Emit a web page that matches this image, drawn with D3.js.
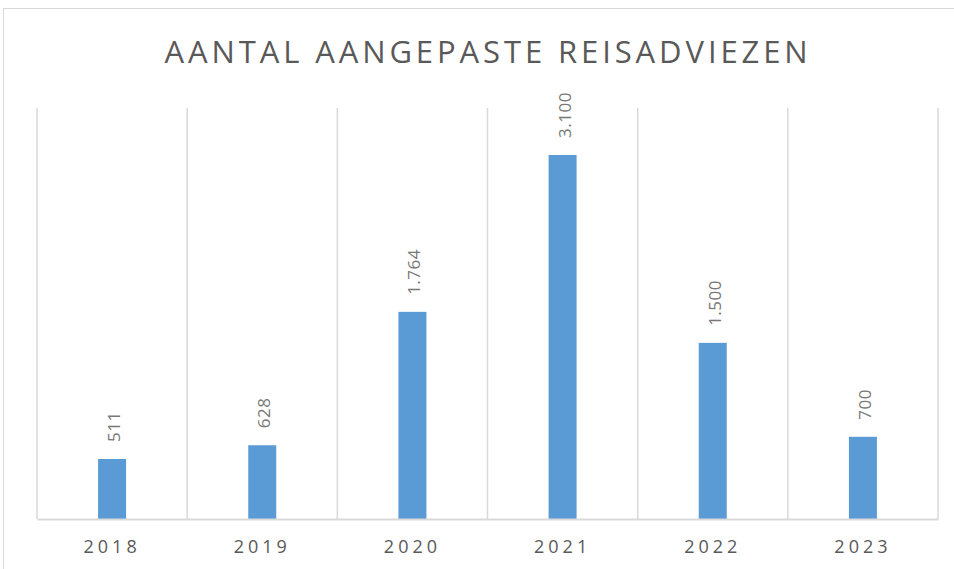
<!DOCTYPE html>
<html><head><meta charset="utf-8">
<script src="https://cdn.jsdelivr.net/npm/d3@7"></script>
<style>body{margin:0;background:#fff;} svg{display:block;}</style>
</head><body>
<script>
const categories = ["2018","2019","2020","2021","2022","2023"];
const values = [511, 628, 1764, 3100, 1500, 700];
const valueLabels = ["511","628","1.764","3.100","1.500","700"];
const title = "AANTAL AANGEPASTE REISADVIEZEN";

(function(){
const W = 954, H = 569;
const svg = d3.select("body").append("svg").attr("width", W).attr("height", H);
svg.append("rect").attr("width", W).attr("height", H).attr("fill", "#fff");
svg.append("rect").attr("x", 3.5).attr("y", 8.5).attr("width", 1000).attr("height", 700)
  .attr("fill", "none").attr("stroke", "#d9d9d9").attr("stroke-width", 1);

const pl = 37, pr = 938, pt = 108, pb = 519;
const x = d3.scaleBand().domain(categories).range([pl, pr]).paddingInner(0).paddingOuter(0);
const y = d3.scaleLinear().domain([0, 3500]).range([pb, pt]);
const barW = 28;

const bounds = categories.map(c => x(c)).concat([pr]);
svg.selectAll("line.grid").data(bounds).enter().append("line")
  .attr("x1", d => d).attr("x2", d => d).attr("y1", pt).attr("y2", pb)
  .attr("stroke", "#d9d9d9").attr("stroke-width", 1.5);

svg.selectAll("rect.bar").data(values).enter().append("rect")
  .attr("x", (d, i) => x(categories[i]) + x.bandwidth() / 2 - barW / 2)
  .attr("y", d => y(d)).attr("width", barW).attr("height", d => y(0) - y(d))
  .attr("fill", "#5b9bd5");

const xAxis = d3.axisBottom(x).tickSize(0).tickPadding(0);
const gx = svg.append("g").attr("transform", `translate(0,${pb})`).call(xAxis);
gx.select(".domain").attr("stroke", "#d9d9d9").attr("stroke-width", 2);
gx.selectAll("text").attr("font-family", "'Open Sans', sans-serif").attr("font-size", 18)
  .attr("fill", "#595959").attr("letter-spacing", "4px").attr("y", 34).attr("dy", 0);

svg.selectAll("text.lbl").data(values).enter().append("text")
  .attr("transform", (d, i) => `translate(${x(categories[i]) + x.bandwidth() / 2 + 8},${y(d) - 17}) rotate(-90)`)
  .attr("font-family", "'Open Sans', sans-serif").attr("font-size", 17)
  .attr("fill", "#787878").attr("letter-spacing", "0.5px")
  .text((d, i) => valueLabels[i]);

svg.append("text").attr("x", 488).attr("y", 63).attr("text-anchor", "middle")
  .attr("font-family", "'Open Sans', sans-serif").attr("font-weight", 400).attr("font-size", 31)
  .attr("fill", "#595959").attr("letter-spacing", "3.9px").text(title);
})();
</script>
</body></html>
